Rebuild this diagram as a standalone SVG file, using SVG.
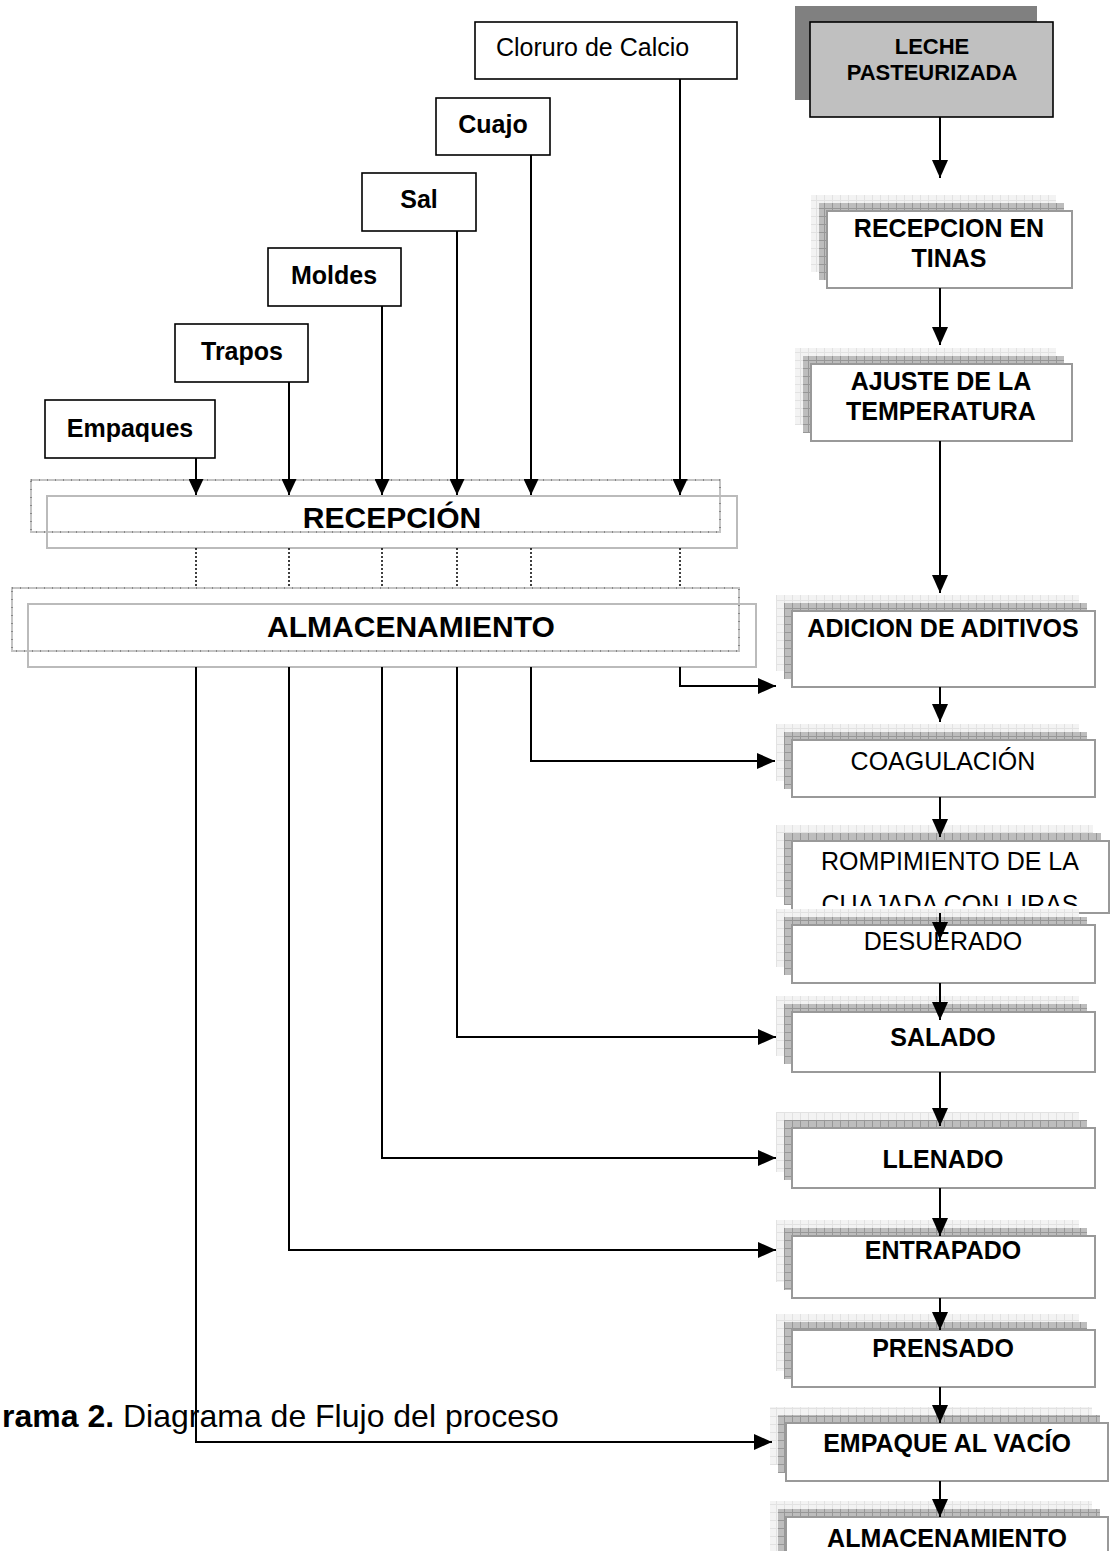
<svg xmlns="http://www.w3.org/2000/svg" width="1117" height="1551" viewBox="0 0 1117 1551">
  <style>
    text { font-family: "Liberation Sans", Arial, sans-serif; fill: #000; }
    .b { font-weight: bold; }
    .t25 { font-size: 25px; }
    .t22 { font-size: 22px; }
    .t30 { font-size: 30px; }
    .mid { text-anchor: middle; }
    .in { fill: #fff; stroke: #000; stroke-width: 1.6; }
    .sh1 { fill: url(#lite); stroke: none; }
    .sh2 { fill: url(#dark); stroke: none; }
    .box { fill: #fff; stroke: #999; stroke-width: 2; }
    .band { fill: none; stroke: #bbb; stroke-width: 2; }
    .bandd { fill: none; stroke: #c4c4c4; stroke-width: 2; }
    .bandt { fill: none; stroke: #888; stroke-width: 2; stroke-dasharray: 1 7; }
    .ln { fill: none; stroke: #000; stroke-width: 2; }
    .dot { fill: none; stroke: #000; stroke-width: 1.5; stroke-dasharray: 2 2; }
  </style>
  <defs>
    <pattern id="lite" width="8" height="8" patternUnits="userSpaceOnUse">
      <rect width="8" height="8" fill="#f3f3f3"/>
      <path d="M0,0.5H8M0.5,0V8" stroke="#e2e2e2" stroke-width="1"/>
    </pattern>
    <pattern id="dark" width="8" height="8" patternUnits="userSpaceOnUse">
      <rect width="8" height="8" fill="#bdbdbd"/>
      <path d="M0,0.5H8M0.5,0V8" stroke="#979797" stroke-width="1"/>
    </pattern>
    <marker id="ah" viewBox="0 0 18 16" markerWidth="18" markerHeight="16" refX="18" refY="8" orient="auto" markerUnits="userSpaceOnUse">
      <path d="M0,0L18,8L0,16z" fill="#000"/>
    </marker>
    <marker id="ahs" viewBox="0 0 16 15" markerWidth="16" markerHeight="15" refX="16" refY="7.5" orient="auto" markerUnits="userSpaceOnUse">
      <path d="M0,0L16,7.5L0,15z" fill="#000"/>
    </marker>
    <clipPath id="clipRomp">
      <rect x="793" y="842" width="315" height="64"/>
    </clipPath>
  </defs>

  <!-- input supplies -->
  <g id="n-cloruro">
    <rect class="in" x="475" y="22" width="262" height="57"/>
    <text class="t25" x="496" y="56">Cloruro de Calcio</text>
  </g>
  <g id="n-cuajo">
    <rect class="in" x="436" y="98" width="114" height="57"/>
    <text class="t25 b mid" x="493" y="133">Cuajo</text>
  </g>
  <g id="n-sal">
    <rect class="in" x="362" y="173" width="114" height="58"/>
    <text class="t25 b mid" x="419" y="208">Sal</text>
  </g>
  <g id="n-moldes">
    <rect class="in" x="268" y="248" width="133" height="58"/>
    <text class="t25 b mid" x="334" y="284">Moldes</text>
  </g>
  <g id="n-trapos">
    <rect class="in" x="175" y="324" width="133" height="58"/>
    <text class="t25 b mid" x="242" y="360">Trapos</text>
  </g>
  <g id="n-empaques">
    <rect class="in" x="45" y="400" width="170" height="58"/>
    <text class="t25 b mid" x="130" y="437">Empaques</text>
  </g>

  <!-- reception and storage bands -->
  <g id="n-recepcion">
    <rect class="bandd" x="31" y="480" width="689" height="52"/>
    <rect class="bandt" x="31" y="480" width="689" height="52"/>
    <rect class="band" x="47" y="496" width="690" height="52"/>
    <text class="t30 b mid" x="392" y="528">RECEPCIÓN</text>
  </g>
  <g id="n-almacen">
    <rect class="bandd" x="12" y="588" width="727" height="63"/>
    <rect class="bandt" x="12" y="588" width="727" height="63"/>
    <rect class="band" x="28" y="604" width="728" height="63"/>
    <text class="t30 b mid" x="411" y="637">ALMACENAMIENTO</text>
  </g>

  <!-- process column -->
  <g id="n-leche">
    <rect x="795" y="6" width="242" height="94" fill="#808080"/>
    <rect x="810" y="22" width="243" height="95" fill="#c0c0c0" stroke="#000" stroke-width="1.6"/>
    <text class="t22 b mid" x="932" y="54">LECHE</text>
    <text class="t22 b mid" x="932" y="80">PASTEURIZADA</text>
  </g>
  <g id="n-tinas">
    <rect class="sh1" x="811" y="195" width="245" height="77"/>
    <rect class="sh2" x="819" y="203" width="245" height="77"/>
    <rect class="box" x="827" y="211" width="245" height="77"/>
    <text class="t25 b mid" x="949" y="237">RECEPCION EN</text>
    <text class="t25 b mid" x="949" y="267">TINAS</text>
  </g>
  <g id="n-ajuste">
    <rect class="sh1" x="795" y="348" width="261" height="77"/>
    <rect class="sh2" x="803" y="356" width="261" height="77"/>
    <rect class="box" x="811" y="364" width="261" height="77"/>
    <text class="t25 b mid" x="941" y="390">AJUSTE DE LA</text>
    <text class="t25 b mid" x="941" y="420">TEMPERATURA</text>
  </g>
  <g id="n-adicion">
    <rect class="sh1" x="776" y="595" width="303" height="76"/>
    <rect class="sh2" x="784" y="603" width="303" height="76"/>
    <rect class="box" x="792" y="611" width="303" height="76"/>
    <text class="t25 b mid" x="943" y="637">ADICION DE ADITIVOS</text>
  </g>
  <g id="n-coagulacion">
    <rect class="sh1" x="776" y="724" width="303" height="57"/>
    <rect class="sh2" x="784" y="732" width="303" height="57"/>
    <rect class="box" x="792" y="740" width="303" height="57"/>
    <text class="t25 mid" x="943" y="770">COAGULACIÓN</text>
  </g>
  <g id="n-rompimiento">
    <rect class="sh1" x="776" y="825" width="317" height="72"/>
    <rect class="sh2" x="784" y="833" width="317" height="72"/>
    <rect class="box" x="792" y="841" width="317" height="72"/>
    <g clip-path="url(#clipRomp)">
      <text class="t25 mid" x="950" y="870">ROMPIMIENTO DE LA</text>
      <text class="t25 mid" x="950" y="913">CUAJADA CON LIRAS</text>
    </g>
  </g>
  <g id="n-desuerado">
    <rect class="sh1" x="776" y="909" width="303" height="58"/>
    <rect class="sh2" x="784" y="917" width="303" height="58"/>
    <rect class="box" x="792" y="925" width="303" height="58"/>
    <text class="t25 mid" x="943" y="950">DESUERADO</text>
  </g>
  <g id="n-salado">
    <rect class="sh1" x="776" y="996" width="303" height="60"/>
    <rect class="sh2" x="784" y="1004" width="303" height="60"/>
    <rect class="box" x="792" y="1012" width="303" height="60"/>
    <text class="t25 b mid" x="943" y="1046">SALADO</text>
  </g>
  <g id="n-llenado">
    <rect class="sh1" x="776" y="1112" width="303" height="60"/>
    <rect class="sh2" x="784" y="1120" width="303" height="60"/>
    <rect class="box" x="792" y="1128" width="303" height="60"/>
    <text class="t25 b mid" x="943" y="1168">LLENADO</text>
  </g>
  <g id="n-entrapado">
    <rect class="sh1" x="776" y="1220" width="303" height="62"/>
    <rect class="sh2" x="784" y="1228" width="303" height="62"/>
    <rect class="box" x="792" y="1236" width="303" height="62"/>
    <text class="t25 b mid" x="943" y="1259">ENTRAPADO</text>
  </g>
  <g id="n-prensado">
    <rect class="sh1" x="776" y="1314" width="303" height="57"/>
    <rect class="sh2" x="784" y="1322" width="303" height="57"/>
    <rect class="box" x="792" y="1330" width="303" height="57"/>
    <text class="t25 b mid" x="943" y="1357">PRENSADO</text>
  </g>
  <g id="n-empaque">
    <rect class="sh1" x="770" y="1407" width="322" height="58"/>
    <rect class="sh2" x="778" y="1415" width="322" height="58"/>
    <rect class="box" x="786" y="1423" width="322" height="58"/>
    <text class="t25 b mid" x="947" y="1452">EMPAQUE AL VACÍO</text>
  </g>
  <g id="n-almacenamiento">
    <rect class="sh1" x="770" y="1501" width="322" height="70"/>
    <rect class="sh2" x="778" y="1509" width="322" height="70"/>
    <rect class="box" x="786" y="1517" width="322" height="70"/>
    <text class="t25 b mid" x="947" y="1547">ALMACENAMIENTO</text>
  </g>

  <!-- caption -->
  <text x="2" y="1427" style="font-size:32px"><tspan class="b">rama 2.</tspan> Diagrama de Flujo del proceso</text>

  <!-- connectors -->
  <g id="connectors">
    <!-- supplies into reception -->
    <path class="ln" d="M196,458V495" marker-end="url(#ahs)"/>
    <path class="ln" d="M289,382V495" marker-end="url(#ahs)"/>
    <path class="ln" d="M382,306V495" marker-end="url(#ahs)"/>
    <path class="ln" d="M457,231V495" marker-end="url(#ahs)"/>
    <path class="ln" d="M531,155V495" marker-end="url(#ahs)"/>
    <path class="ln" d="M680,79V495" marker-end="url(#ahs)"/>
    <!-- reception to storage -->
    <path class="dot" d="M196,548V588M289,548V588M382,548V588M457,548V588M531,548V588M680,548V588"/>
    <!-- storage out to process steps -->
    <path class="ln" d="M680,667V686H776" marker-end="url(#ah)"/>
    <path class="ln" d="M531,667V761H775" marker-end="url(#ah)"/>
    <path class="ln" d="M457,667V1037H776" marker-end="url(#ah)"/>
    <path class="ln" d="M382,667V1158H776" marker-end="url(#ah)"/>
    <path class="ln" d="M289,667V1250H776" marker-end="url(#ah)"/>
    <path class="ln" d="M196,667V1442H772" marker-end="url(#ah)"/>
    <!-- main process chain -->
    <path class="ln" d="M940,117V178" marker-end="url(#ah)"/>
    <path class="ln" d="M940,288V345" marker-end="url(#ah)"/>
    <path class="ln" d="M940,441V593" marker-end="url(#ah)"/>
    <path class="ln" d="M940,687V722" marker-end="url(#ah)"/>
    <path class="ln" d="M940,797V837" marker-end="url(#ah)"/>
    <path class="ln" d="M940,913V940" marker-end="url(#ah)"/>
    <path class="ln" d="M940,983V1020" marker-end="url(#ah)"/>
    <path class="ln" d="M940,1072V1126" marker-end="url(#ah)"/>
    <path class="ln" d="M940,1188V1236" marker-end="url(#ah)"/>
    <path class="ln" d="M940,1298V1330" marker-end="url(#ah)"/>
    <path class="ln" d="M940,1387V1423" marker-end="url(#ah)"/>
    <path class="ln" d="M940,1481V1517" marker-end="url(#ah)"/>
  </g>
</svg>
